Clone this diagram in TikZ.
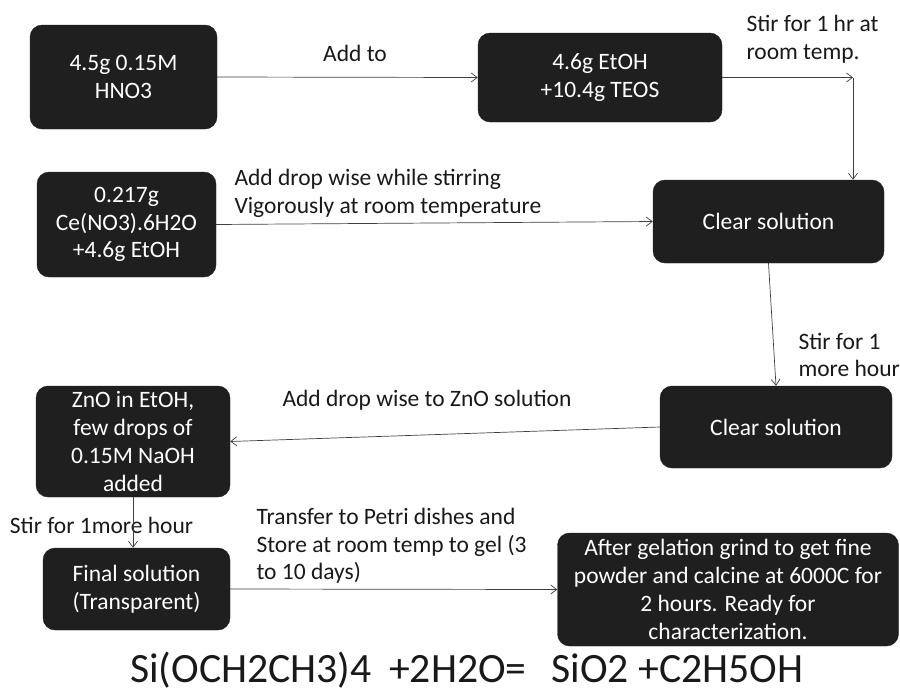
\documentclass[tikz,border=0pt]{standalone}
\usepackage{fontspec}
\setmainfont{Carlito}
\usetikzlibrary{arrows.meta}

\tikzset{
  stepbox/.style={fill=black!88,draw=black!88,rounded corners=12pt,text=white,
    align=center,inner sep=1pt,font=\fontsize{23.5}{27.8}\selectfont},
  lbl/.style={align=left,text=black!90,font=\fontsize{23.5}{27.5}\selectfont},
  flow/.style={-{Straight Barb[length=6pt,width=9pt]},line width=0.7pt,black!75}
}

\begin{document}
\begin{tikzpicture}[x=1pt,y=-1pt]
    \useasboundingbox (0,0) rectangle (900,694);
    % the boxes
    \node[stepbox,minimum width=187pt,minimum height=104pt] (hno) at (123.5,77) {4.5g 0.15M\\HNO3};
    \node[stepbox,minimum width=244pt,minimum height=89pt] (teos) at (600,77.5) {4.6g EtOH\\+10.4g TEOS};
    \node[stepbox,minimum width=179pt,minimum height=105pt] (ce) at (126.5,224.5) {0.217g\\Ce(NO3).6H2O\\+4.6g EtOH};
    \node[stepbox,minimum width=231pt,minimum height=83pt] (clr1) at (768.5,221.5) {Clear solution};
    \node[stepbox,minimum width=232pt,minimum height=82pt] (clr2) at (776,427) {Clear solution};
    \node[stepbox,minimum width=194pt,minimum height=111pt] (zno) at (133,441.5) {ZnO in EtOH,\\few drops of\\0.15M NaOH\\added};
    \node[stepbox,minimum width=187pt,minimum height=82pt] (fin) at (136.5,589) {Final solution\\(Transparent)};
    \node[stepbox,minimum width=341pt,minimum height=113pt] (gel) at (728,589.5) {After gelation grind to get fine\\powder and calcine at 6000C for\\2 hours. Ready for\\characterization.};
    \coordinate (turn) at (853,77.5);
    % the labels
    \node[lbl] (l1) at (355,53) {Add to};
    \node[lbl,anchor=west] (l2) at (743,39) {Stir for 1 hr at\\room temp.};
    \node[lbl,anchor=west] (l3) at (231,193.5) {Add drop wise while stirring\\Vigorously at room temperature};
    \node[lbl,anchor=west] (l4) at (795,355) {Stir for 1\\more hour};
    \node[lbl] (l5) at (427,400) {Add drop wise to ZnO solution};
    \node[lbl] (l6) at (101.5,525) {Stir for 1more hour};
    \node[lbl,anchor=west] (l7) at (253,546) {Transfer to Petri dishes and\\Store at room temp to gel (3\\to 10 days)};
    \node[anchor=base west,inner sep=0pt,text=black!90,font=\fontsize{41.7}{48}\selectfont] (eq) at (130,682)
      {Si(OCH2CH3)4\hspace{0.42em}+2H2O=\hspace{0.6em}SiO2 +C2H5OH};
    % the arrows
    \draw[flow] (hno.east) -- (teos.west);
    \draw[flow] (teos.east) -- (turn);
    \draw[flow] (turn) -- (turn |- clr1.north);
    \draw[flow] (ce.east) -- (clr1.west);
    \draw[flow] (clr1.south) -- (clr2.north);
    \draw[flow] (clr2.west) -- (zno.east);
    \draw[flow] (zno.south) -- (zno.south |- fin.north);
    \draw[flow] (fin.east) -- (gel.west);
\end{tikzpicture}
\end{document}
